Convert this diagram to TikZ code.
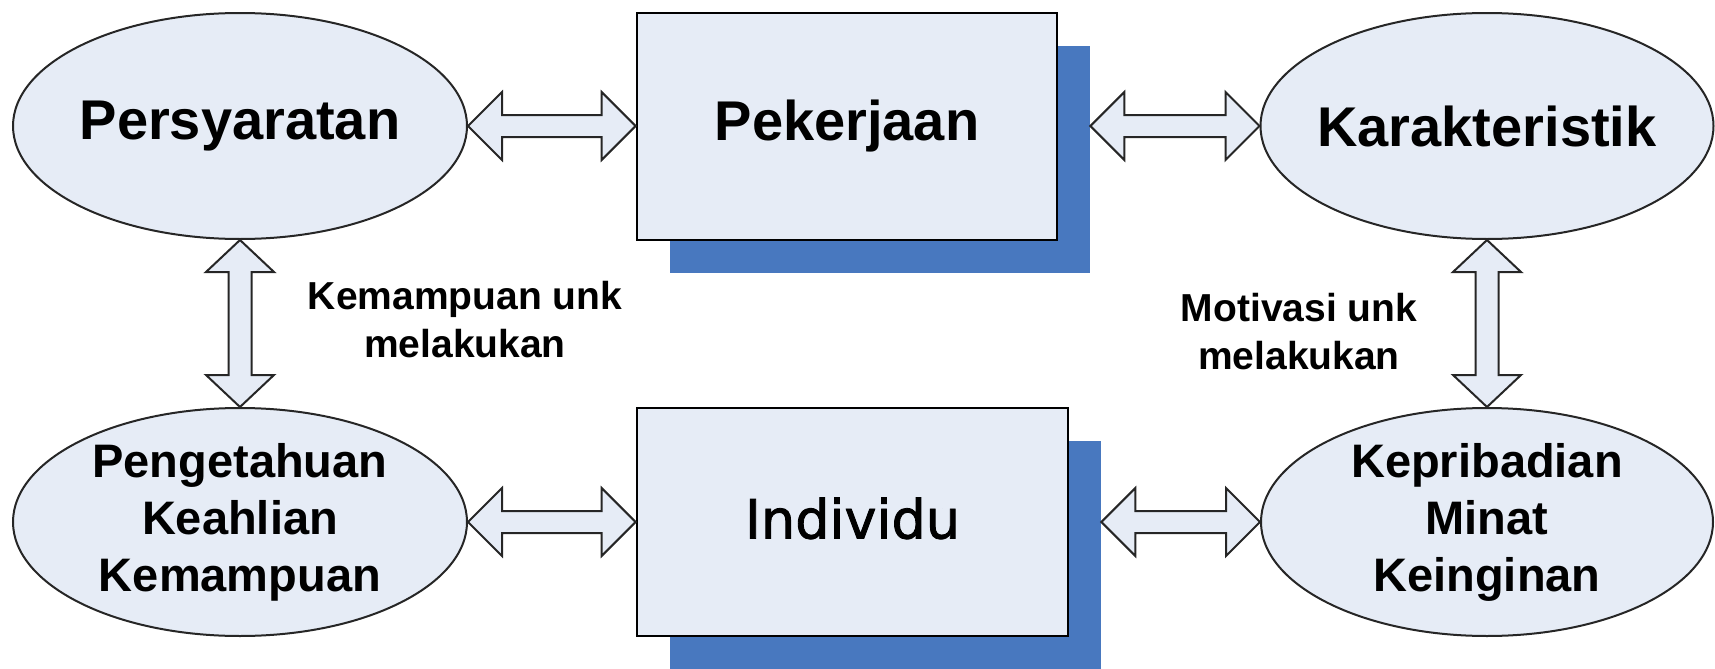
\documentclass[tikz,border=0pt]{standalone}
\usepackage{fontspec}
\setmainfont{Liberation Sans}
\newfontfamily\plainsans[FakeBold=1.6]{DejaVu Sans}
\usetikzlibrary{shapes.geometric,calc}

\definecolor{paleblue}{RGB}{230,236,246}
\definecolor{shadeblue}{RGB}{72,120,191}

\tikzset{
  oval/.style={ellipse, draw=black!85, line width=1pt, fill=paleblue, inner sep=0pt},
  ovaltext/.style={align=center, inner sep=0pt, font=\bfseries\fontsize{28}{34}\selectfont},
  smallovaltext/.style={align=center, inner sep=0pt, font=\bfseries\fontsize{23.5}{28.5}\selectfont},
  card/.style={rectangle, draw=black, line width=1.4pt, fill=paleblue, inner sep=0pt},
  cardshadow/.style={rectangle, fill=shadeblue, inner sep=0pt},
  blockarrow/.style={draw=black!85, line width=1pt, fill=paleblue, line join=miter},
  note/.style={align=center, inner sep=0pt, font=\bfseries\fontsize{19.5}{24}\selectfont},
}

% horizontal double-headed block arrow between two points on one level
\newcommand\hblock[2]{%
  \draw[blockarrow] let \p1=(#1), \p2=(#2) in
    (\x1,\y1) -- (\x1+17pt,\y1+17pt) -- (\x1+17pt,\y1+5.5pt)
    -- (\x2-17pt,\y1+5.5pt) -- (\x2-17pt,\y1+17pt) -- (\x2,\y1)
    -- (\x2-17pt,\y1-17pt) -- (\x2-17pt,\y1-5.5pt)
    -- (\x1+17pt,\y1-5.5pt) -- (\x1+17pt,\y1-17pt) -- cycle;}

% vertical double-headed block arrow, first point above the second
\newcommand\vblock[2]{%
  \draw[blockarrow] let \p1=(#1), \p2=(#2) in
    (\x1,\y1) -- (\x1+17pt,\y1-16pt) -- (\x1+5.75pt,\y1-16pt)
    -- (\x1+5.75pt,\y2+16pt) -- (\x1+17pt,\y2+16pt) -- (\x1,\y2)
    -- (\x1-17pt,\y2+16pt) -- (\x1-5.75pt,\y2+16pt)
    -- (\x1-5.75pt,\y1-16pt) -- (\x1-17pt,\y1-16pt) -- cycle;}

\begin{document}
\begin{tikzpicture}[x=0.5pt,y=-0.5pt]
  \useasboundingbox (0,0) rectangle (1715,669);

  % top row
  \node[oval, minimum width=227pt, minimum height=113pt] (pers) at (240,126) {};
  \node[ovaltext] (persT) at (pers.center) {Persyaratan};

  \node[cardshadow, minimum width=210pt, minimum height=113.5pt] (pekS) at (880,159.5) {};
  \node[card, minimum width=210pt, minimum height=113.5pt,
        font=\bfseries\fontsize{28}{34}\selectfont] (pek) at (847,126.5) {Pekerjaan};

  \node[oval, minimum width=226.5pt, minimum height=113pt] (kar) at (1487,126) {};
  \node[ovaltext] (karT) at (kar.center) {Karakteristik};

  % bottom row
  \node[oval, minimum width=227pt, minimum height=114pt] (peng) at (240,522) {};
  \node[smallovaltext] (pengT) at (peng.center) {Pengetahuan\\Keahlian\\Kemampuan};

  \node[cardshadow, minimum width=215.5pt, minimum height=114pt] (indS) at (885.5,555) {};
  \node[card, minimum width=215.5pt, minimum height=114pt, text depth=4pt,
        font=\plainsans\fontsize{27}{33}\selectfont] (ind) at (852.5,522) {Individu};

  \node[oval, minimum width=226pt, minimum height=114pt] (kep) at (1487,522) {};
  \node[smallovaltext] (kepT) at (kep.center) {Kepribadian\\Minat\\Keinginan};

  % side notes
  \node[note] (kem) at (465,320) {Kemampuan unk\\melakukan};
  \node[note] (mot) at (1299,332) {Motivasi unk\\melakukan};

  % connectors
  \hblock{pers.east}{pek.west}
  \hblock{pekS.east |- kar.west}{kar.west}
  \hblock{peng.east}{ind.west}
  \hblock{indS.east |- kep.west}{kep.west}
  \vblock{pers.south}{peng.north}
  \vblock{kar.south}{kep.north}
\end{tikzpicture}
\end{document}
